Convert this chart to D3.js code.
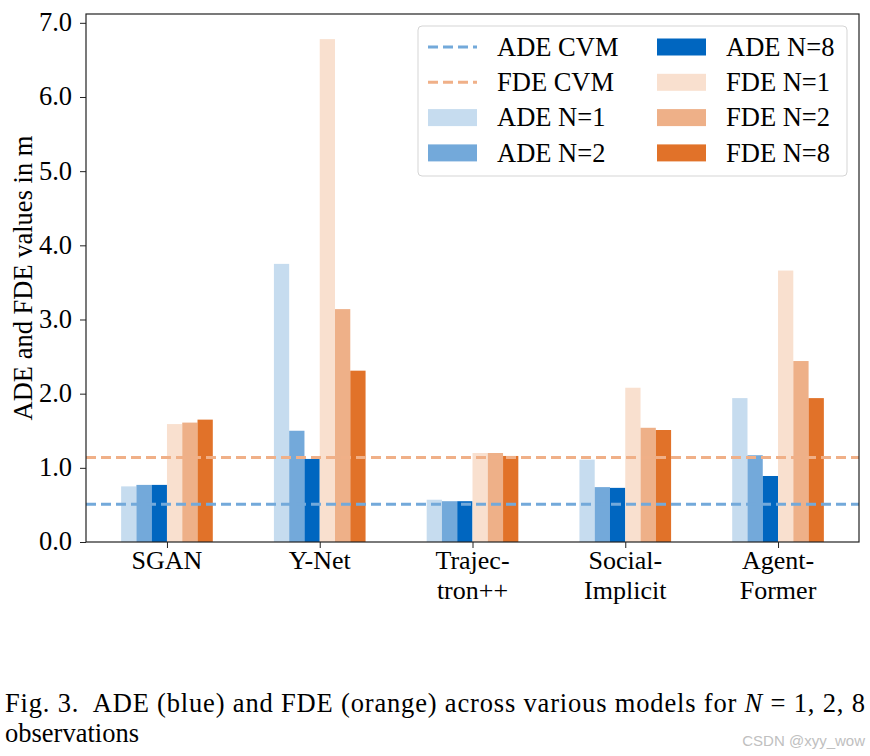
<!DOCTYPE html>
<html>
<head>
<meta charset="utf-8">
<script src="https://cdn.jsdelivr.net/npm/d3@7"></script>
<style>
  body { margin: 0; background: white; }
  svg text { font-family: "Liberation Serif", "DejaVu Serif", serif; fill: #000; }
</style>
</head>
<body>
<div id="chart"></div>
<script>
// model names, one entry per label line
var MODELS = [["SGAN"], ["Y-Net"], ["Trajec-", "tron++"], ["Social-", "Implicit"], ["Agent-", "Former"]];

var ADE_N1 = [0.75, 3.75, 0.57, 1.11, 1.94];
var ADE_N2 = [0.77, 1.50, 0.55, 0.74, 1.17];
var ADE_N8 = [0.77, 1.12, 0.55, 0.73, 0.89];
var FDE_N1 = [1.59, 6.78, 1.20, 2.08, 3.66];
var FDE_N2 = [1.61, 3.14, 1.20, 1.54, 2.44];
var FDE_N8 = [1.65, 2.31, 1.16, 1.51, 1.94];

var ADE_CVM = 0.51;
var FDE_CVM = 1.14;

var Y_TICKS = [0, 1, 2, 3, 4, 5, 6, 7];

var SERIES = [
    {name: "ADE N=1", values: ADE_N1, color: "#c6dcef"},
    {name: "ADE N=2", values: ADE_N2, color: "#73a9da"},
    {name: "ADE N=8", values: ADE_N8, color: "#0066c0"},
    {name: "FDE N=1", values: FDE_N1, color: "#f9e0cf"},
    {name: "FDE N=2", values: FDE_N2, color: "#eeb088"},
    {name: "FDE N=8", values: FDE_N8, color: "#e17229"}
];
var CVM_LINES = [
    {name: "ADE CVM", value: ADE_CVM, color: "#73a9da"},
    {name: "FDE CVM", value: FDE_CVM, color: "#f0b088"}
];

var FONT = 26.5;
var frame = {left: 86, right: 859, top: 14, bottom: 542};
var barW = 0.1;

const render = () => {
    let svg = d3.select("#chart").append("svg")
        .attr("width", 870)
        .attr("height", 756)
        .style("background-color", "white");

    let maxVal = d3.max(SERIES, (s) => d3.max(s.values));
    let xScale = d3.scaleLinear()
        .domain([-0.3 - 0.23, MODELS.length - 1 + 0.3 + 0.23])
        .range([frame.left, frame.right]);
    let yScale = d3.scaleLinear()
        .domain([0, maxVal * 1.05])
        .range([frame.bottom, frame.top]);

    // bars
    SERIES.forEach((s, si) => {
        svg.append("g").selectAll("rect")
            .data(s.values)
            .join("rect")
                .attr("x", (d, i) => xScale(i - 0.3 + si * barW))
                .attr("y", (d) => yScale(d))
                .attr("width", xScale(barW) - xScale(0))
                .attr("height", (d) => yScale(0) - yScale(d))
                .attr("fill", s.color);
    });

    // CVM reference lines
    CVM_LINES.forEach((c) => {
        svg.append("line")
            .attr("x1", frame.left)
            .attr("x2", frame.right)
            .attr("y1", yScale(c.value))
            .attr("y2", yScale(c.value))
            .attr("stroke", c.color)
            .attr("stroke-width", 3)
            .attr("stroke-dasharray", "10,5");
    });

    // y axis
    let yAxis = svg.append("g")
        .attr("transform", "translate(" + frame.left + ",0)")
        .call(d3.axisLeft(yScale)
            .tickValues(Y_TICKS)
            .tickFormat(d3.format(".1f"))
            .tickSize(6)
            .tickPadding(8));
    yAxis.select(".domain").remove();
    yAxis.selectAll(".tick line").attr("stroke", "#222");
    yAxis.selectAll(".tick text")
        .attr("font-size", FONT)
        .attr("font-family", "Liberation Serif")
        .attr("dy", "0.3em");

    // x axis
    let xAxis = svg.append("g")
        .attr("transform", "translate(0," + frame.bottom + ")")
        .call(d3.axisBottom(xScale)
            .tickValues(d3.range(MODELS.length))
            .tickSize(6)
            .tickFormat(""));
    xAxis.select(".domain").remove();
    xAxis.selectAll(".tick line").attr("stroke", "#222");
    MODELS.forEach((lines, i) => {
        lines.forEach((ln, li) => {
            svg.append("text")
                .attr("x", xScale(i))
                .attr("y", 569 + li * 30)
                .attr("text-anchor", "middle")
                .attr("font-size", 26)
                .text(ln);
        });
    });

    // frame
    svg.append("rect")
        .attr("x", frame.left)
        .attr("y", frame.top)
        .attr("width", frame.right - frame.left)
        .attr("height", frame.bottom - frame.top)
        .attr("fill", "none")
        .attr("stroke", "#222")
        .attr("stroke-width", 1.2);

    // y label
    svg.append("text")
        .attr("transform", "translate(32," + ((frame.top + frame.bottom) / 2) + ") rotate(-90)")
        .attr("text-anchor", "middle")
        .attr("font-size", FONT)
        .text("ADE and FDE values in m");

    // legend
    let legend = svg.append("g");
    legend.append("rect")
        .attr("x", 418).attr("y", 26)
        .attr("width", 429).attr("height", 150)
        .attr("rx", 4)
        .attr("fill", "white")
        .attr("fill-opacity", 0.85)
        .attr("stroke", "#d5d5d5")
        .attr("stroke-width", 1);
    let items = CVM_LINES.map((c) => ({name: c.name, color: c.color, line: true}))
        .concat(SERIES.map((s) => ({name: s.name, color: s.color, line: false})));
    items.forEach((it, k) => {
        let col = Math.floor(k / 4);
        let row = k % 4;
        let hx = col === 0 ? 428 : 657;
        let cy = 47 + row * 35.3;
        if(it.line) {
            legend.append("line")
                .attr("x1", hx).attr("x2", hx + 49)
                .attr("y1", cy).attr("y2", cy)
                .attr("stroke", it.color)
                .attr("stroke-width", 3)
                .attr("stroke-dasharray", "10,5");
        }
        else {
            legend.append("rect")
                .attr("x", hx).attr("y", cy - 8.5)
                .attr("width", 49).attr("height", 17)
                .attr("fill", it.color);
        }
        legend.append("text")
            .attr("x", hx + 69)
            .attr("y", cy)
            .attr("dy", "0.33em")
            .attr("font-size", FONT)
            .text(it.name);
    });

    // caption
    let cap = svg.append("text")
        .attr("x", 5)
        .attr("y", 712)
        .attr("font-size", 26.5)
        .attr("textLength", 860)
        .attr("lengthAdjust", "spacing");
    cap.append("tspan").text("Fig. 3.\u00a0 ADE (blue) and FDE (orange) across various models for ");
    cap.append("tspan").attr("font-style", "italic").text("N");
    cap.append("tspan").text(" = 1, 2, 8");
    svg.append("text")
        .attr("x", 5)
        .attr("y", 742)
        .attr("font-size", 26.5)
        .text("observations");

    // watermark
    svg.append("text")
        .attr("x", 865)
        .attr("y", 746)
        .attr("text-anchor", "end")
        .attr("font-size", 15)
        .style("font-family", "'Liberation Sans', Arial, sans-serif")
        .style("fill", "#c0c0c0")
        .text("CSDN @xyy_wow");
}

render();
</script>
</body>
</html>
